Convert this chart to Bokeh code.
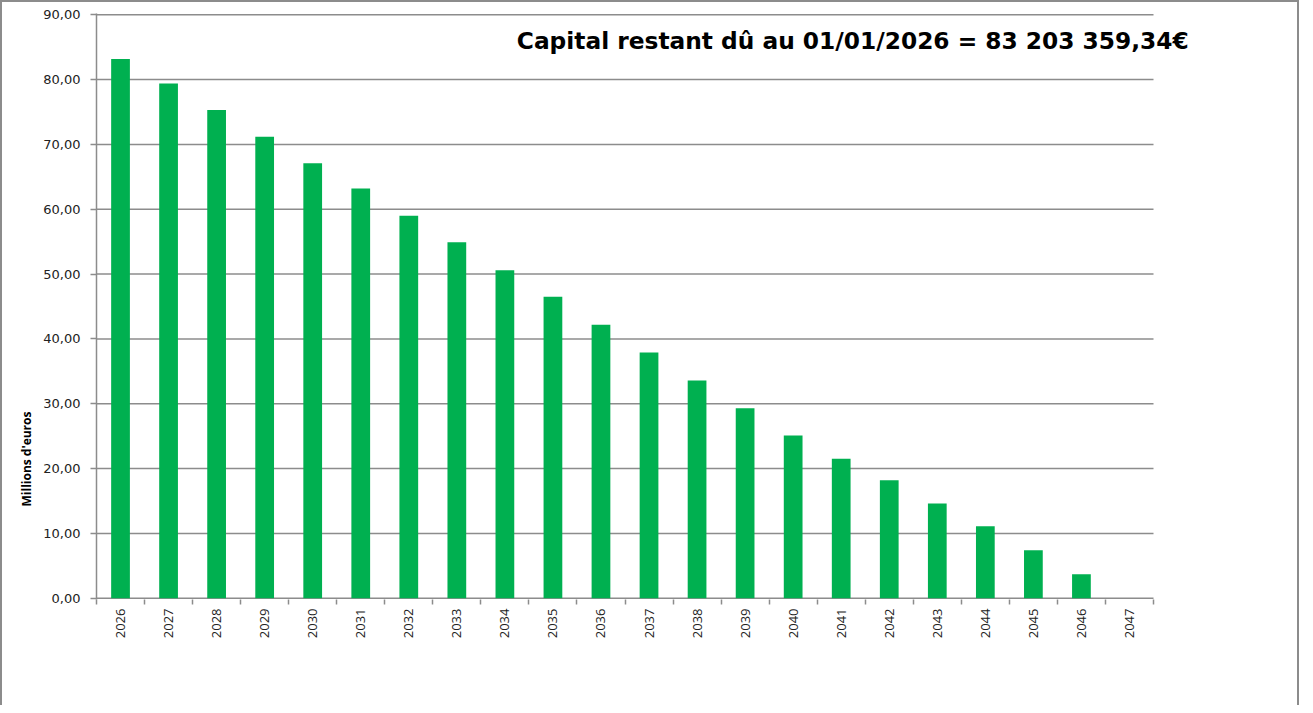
import math
from bokeh.plotting import figure
from bokeh.models import (ColumnDataSource, Range1d, FixedTicker, CustomJSTickFormatter,
                          Label, Title)
from bokeh.embed import file_html
from bokeh.resources import INLINE

years = [str(y) for y in range(2026, 2048)]
capital = [83.2, 79.4, 75.3, 71.2, 67.1, 63.2, 59.0, 54.9, 50.6, 46.5, 42.2,
           37.9, 33.6, 29.3, 25.1, 21.5, 18.2, 14.6, 11.1, 7.4, 3.7, 0.0]
y_ticks = [0, 10, 20, 30, 40, 50, 60, 70, 80, 90]
title_text = "Capital restant dû au 01/01/2026 = 83 203 359,34€"
y_label_text = "Millions d'euros"

n = len(years)
centers = [i + 0.5 for i in range(n)]
source = ColumnDataSource(dict(x=centers, top=capital, year=years))

GREY = "#8c8c8c"

# frame is widened to the right so the title is not clipped; grid lines stop at the last category
AXIS_W = 1057.0
FRAME_W = 1106
p = figure(width=1299, height=705, output_backend="svg", toolbar_location=None,
           x_range=Range1d(0, n * FRAME_W / AXIS_W), y_range=Range1d(-0.2, 90.2),
           min_border_left=96, min_border_right=1299 - 96 - FRAME_W,
           min_border_top=13, min_border_bottom=106)
p.border_fill_color = None
p.background_fill_color = "white"
p.outline_line_color = None
p.styles = {"box-shadow": "inset 2px 2px 0 0 #8c8c8c, inset -2px 0 0 0 #8c8c8c"}

# horizontal grid lines (and the x axis line at 0), limited to the category span
p.segment(x0=[0] * len(y_ticks), x1=[n] * len(y_ticks), y0=y_ticks, y1=y_ticks,
          line_color=GREY, line_width=1.5)

p.vbar(x="x", top="top", width=0.39, source=source,
       fill_color="#00b050", line_color=None)

# x axis
xa = p.xaxis[0]
xa.ticker = FixedTicker(ticks=centers, minor_ticks=list(range(n + 1)))
xa.formatter = CustomJSTickFormatter(args=dict(labels=years),
                                     code="return labels[Math.floor(tick)];")
xa.major_label_orientation = math.pi / 2
xa.major_tick_line_color = None
xa.major_tick_out = 6
xa.major_tick_in = 0
xa.minor_tick_line_color = GREY
xa.minor_tick_line_width = 1.5
xa.minor_tick_out = 5
xa.minor_tick_in = 0
xa.axis_line_color = None
xa.major_label_standoff = 3
xa.major_label_text_font = "Open Sans"
xa.major_label_text_font_size = "13px"
xa.major_label_text_color = "#222222"

# y axis
ya = p.yaxis[0]
ya.ticker = FixedTicker(ticks=y_ticks)
ya.formatter = CustomJSTickFormatter(code="return tick.toFixed(2).replace('.', ',');")
ya.major_tick_out = 6
ya.major_tick_in = 0
ya.major_tick_line_color = GREY
ya.major_tick_line_width = 1.5
ya.minor_tick_line_color = None
ya.axis_line_color = GREY
ya.axis_line_width = 1.5
ya.major_label_standoff = 10
ya.major_label_text_font = "DejaVu Sans"
ya.major_label_text_font_size = "13px"
ya.major_label_text_color = "#222222"

p.xgrid.visible = False
p.ygrid.visible = False

p.add_layout(Label(x=15.74, y=86.0, text=title_text, text_align="center",
                   text_baseline="alphabetic", text_font="DejaVu Sans",
                   text_font_style="bold", text_font_size="23.3px", text_color="#000000"))

p.add_layout(Title(text=y_label_text, align="left", offset=93, standoff=11,
                   text_font="Open Sans", text_font_style="bold",
                   text_font_size="12px", text_color="#000000"), "left")

open("out.html", "w").write(file_html(p, INLINE))
